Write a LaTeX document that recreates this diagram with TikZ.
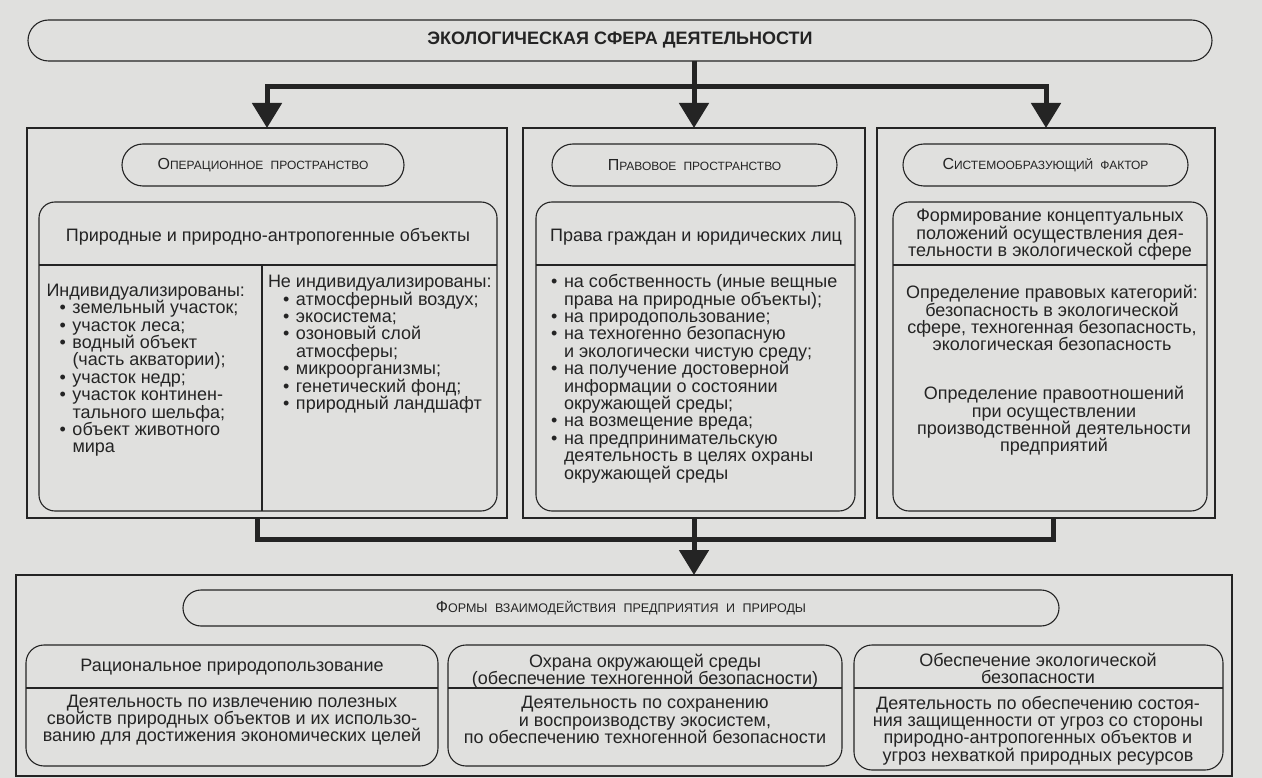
\documentclass[tikz,border=0pt]{standalone}
\usepackage{fontspec}
\setmainfont{Liberation Sans}
\usetikzlibrary{arrows.meta}
\definecolor{paper}{RGB}{224,224,222}
\definecolor{ink}{RGB}{36,36,36}
\newcommand{\sccap}[3][12]{{\fontsize{16}{16}\selectfont #2}{\fontsize{#1}{#1}\selectfont\spaceskip=0.6em #3}}
\newcommand{\bitem}[1][14pt]{\hspace*{#1}\makebox[13pt][l]{\textbullet}}
\newcommand{\bcont}[1][14pt]{\hspace*{\dimexpr #1+13pt\relax}}
\begin{document}
\begin{tikzpicture}
  [x=1pt,y=-1pt,
  panel/.style={rectangle,draw=ink,line width=1.1pt,inner sep=0,outer sep=0},
  stadium/.style={rectangle,draw=ink,line width=1.1pt,rounded corners=21pt,
                  minimum height=42,inner sep=0,outer sep=0,text=ink},
  inbox/.style={rectangle,draw=ink,line width=1.1pt,rounded corners=16pt,
                  inner sep=0,outer sep=0},
  txt/.style={inner sep=0,outer sep=0,text=ink,
                  font=\fontsize{18}{17.4}\selectfont},
  divider/.style={draw=ink,line width=1.1pt},
  thickline/.style={draw=ink,line width=5pt},
  headarrow/.style={-{Triangle[width=29pt,length=25pt]}}
  ]
  \fill[paper] (0,0) rectangle (1262,778);
  \useasboundingbox (0,0) rectangle (1262,778);

  % top level
  \node[stadium,minimum width=1184,minimum height=41,rounded corners=20.5pt,
        font=\fontsize{18}{18}\selectfont\bfseries] (title) at (620,40.5)
        {ЭКОЛОГИЧЕСКАЯ СФЕРА ДЕЯТЕЛЬНОСТИ};
  \coordinate (jtop) at (694,87);

  \node[panel,minimum width=480,minimum height=390] (opbox) at (267,323) {};
  \node[panel,minimum width=342,minimum height=390] (lawbox) at (694,323) {};
  \node[panel,minimum width=338,minimum height=390] (sysbox) at (1046,323) {};

  \node[stadium,minimum width=282] (ophead) at (263,165)
        {\sccap{О}{ПЕРАЦИОННОЕ ПРОСТРАНСТВО}};
  \node[stadium,minimum width=285] (lawhead) at (694.5,165)
        {\sccap{П}{РАВОВОЕ ПРОСТРАНСТВО}};
  \node[stadium,minimum width=285] (syshead) at (1045.5,165)
        {\sccap{С}{ИСТЕМООБРАЗУЮЩИЙ ФАКТОР}};

  \coordinate (sepup) at (0,265);
  \coordinate (seplow) at (0,688);
  \coordinate (vdiv) at (262,265);

  % operational space
  \node[inbox,minimum width=458,minimum height=309] (objbox) at (268,356.5) {};
  \node[txt] (objtitle) at (268,237) {Природные и природно-антропогенные объекты};
  \node[txt,anchor=west,align=left] (indlist) at (46.5,370.3)
        {Индивидуализированы:\\
         \bitem[13pt]земельный участок;\\
         \bitem[13pt]участок леса;\\
         \bitem[13pt]водный объект\\
         \bcont[13pt](часть акватории);\\
         \bitem[13pt]участок недр;\\
         \bitem[13pt]участок континен-\\
         \bcont[13pt]тального шельфа;\\
         \bitem[13pt]объект животного\\
         \bcont[13pt]мира};
  \node[txt,anchor=west,align=left] (nonindlist) at (268,344.2)
        {Не индивидуализированы:\\
         \bitem[15pt]атмосферный воздух;\\
         \bitem[15pt]экосистема;\\
         \bitem[15pt]озоновый слой\\
         \bcont[15pt]атмосферы;\\
         \bitem[15pt]микроорганизмы;\\
         \bitem[15pt]генетический фонд;\\
         \bitem[15pt]природный ландшафт};

  % legal space
  \node[inbox,minimum width=319,minimum height=309] (rightsbox) at (695.5,356.5) {};
  \node[txt] (rightstitle) at (696,237) {Права граждан и юридических лиц};
  \node[txt,anchor=west,align=left] (rightslist) at (551,378.7)
        {\bitem[0pt]на собственность (иные вещные\\
         \bcont[0pt]права на природные объекты);\\
         \bitem[0pt]на природопользование;\\
         \bitem[0pt]на техногенно безопасную\\
         \bcont[0pt]и экологически чистую среду;\\
         \bitem[0pt]на получение достоверной\\
         \bcont[0pt]информации о состоянии\\
         \bcont[0pt]окружающей среды;\\
         \bitem[0pt]на возмещение вреда;\\
         \bitem[0pt]на предпринимательскую\\
         \bcont[0pt]деятельность в целях охраны\\
         \bcont[0pt]окружающей среды};

  % system factor
  \node[inbox,minimum width=314,minimum height=309] (factbox) at (1050,356.5) {};
  \node[txt,align=center] (facttitle) at (1050,235)
        {Формирование концептуальных\\положений осуществления дея-\\тельности в экологической сфере};
  \node[txt,align=center] (cattext) at (1052,318.3)
        {Определение правовых категорий:\\безопасность в экологической\\сфере, техногенная безопасность,\\экологическая безопасность};
  \node[txt,align=center] (reltext) at (1054,421)
        {Определение правоотношений\\при осуществлении\\производственной деятельности\\предприятий};

  % forms of interaction
  \node[panel,minimum width=1216,minimum height=201] (formsbox) at (624,675.5) {};
  \node[stadium,minimum width=876,minimum height=36,rounded corners=18pt] (formshead) at (621,608)
        {\sccap[12.5]{Ф}{ОРМЫ ВЗАИМОДЕЙСТВИЯ ПРЕДПРИЯТИЯ И ПРИРОДЫ}};
  \node[inbox,rounded corners=18pt,minimum width=412,minimum height=121] (ratbox) at (232,705.5) {};
  \node[inbox,rounded corners=18pt,minimum width=394,minimum height=121] (protbox) at (645,705.5) {};
  \node[inbox,rounded corners=18pt,minimum width=369,minimum height=125] (safebox) at (1038.5,707.5) {};
  \node[txt] (rattitle) at (232,667) {Рациональное природопользование};
  \node[txt,align=center] (rattext) at (232,720)
        {Деятельность по извлечению полезных\\свойств природных объектов и их использо-\\ванию для достижения экономических целей};
  \node[txt,align=center] (prottitle) at (645,671)
        {Охрана окружающей среды\\(обеспечение техногенной безопасности)};
  \node[txt,align=center] (prottext) at (645,720)
        {Деятельность по сохранению\\и воспроизводству экосистем,\\по обеспечению техногенной безопасности};
  \node[txt,align=center] (safetitle) at (1038,668.5)
        {Обеспечение экологической\\безопасности};
  \node[txt,align=center] (safetext) at (1038,730.5)
        {Деятельность по обеспечению состоя-\\ния защищенности от угроз со стороны\\природно-антропогенных объектов и\\угроз нехваткой природных ресурсов};
  \coordinate (jlow) at (694,539);

  \draw[divider] (objbox.west |- sepup) -- (objbox.east |- sepup);
  \draw[divider] (vdiv) -- (vdiv |- objbox.south);
  \draw[divider] (rightsbox.west |- sepup) -- (rightsbox.east |- sepup);
  \draw[divider] (factbox.west |- sepup) -- (factbox.east |- sepup);
  \draw[divider] (ratbox.west |- seplow) -- (ratbox.east |- seplow);
  \draw[divider] (protbox.west |- seplow) -- (protbox.east |- seplow);
  \draw[divider] (safebox.west |- seplow) -- (safebox.east |- seplow);

  \draw[thickline] (title.south -| jtop) -- (jtop);
  \draw[thickline,headarrow] (jtop) -| (opbox.north);
  \draw[thickline,headarrow] (jtop) -- (lawbox.north);
  \draw[thickline,headarrow] (jtop) -| (sysbox.north);
  \draw[thickline] ([xshift=-10pt]opbox.south) |- (jlow);
  \draw[thickline] ([xshift=7pt]sysbox.south) |- (jlow);
  \draw[thickline,headarrow] (lawbox.south) -- (lawbox.south |- formsbox.north);
\end{tikzpicture}
\end{document}
